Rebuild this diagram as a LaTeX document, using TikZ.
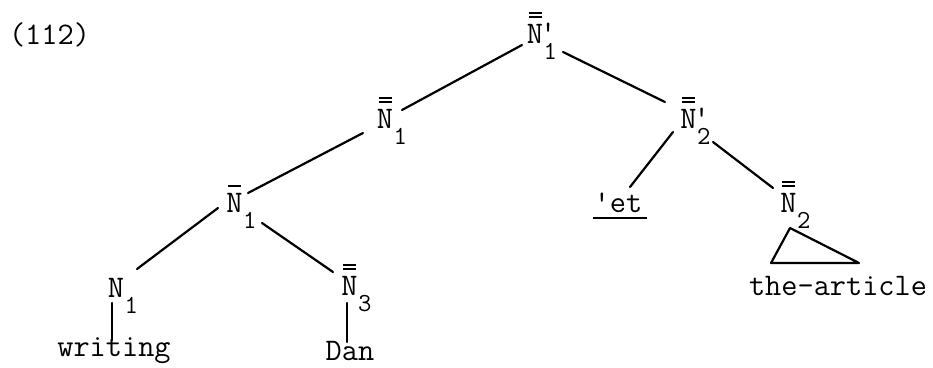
\documentclass[tikz,border=0pt]{standalone}
\usepackage{fontspec}
\newcommand\subf{\fontsize{26}{26}\selectfont\addfontfeature{FakeBold=2}}
\newcommand\Sub[1]{\rlap{\kern0.5pt\raisebox{-16.5pt}{\subf #1}}}
\newcommand\Prm{\rlap{\kern-3pt\raisebox{1pt}{\textquotesingle}}}
\newcommand\mydbar[1]{\draw[barline] ([xshift=-6.5pt,yshift=30pt]#1.base) -- ++(13,0);
  \draw[barline] ([xshift=-6.5pt,yshift=26pt]#1.base) -- ++(13,0);}
\newcommand\mysbar[1]{\draw[barline] ([xshift=-6.5pt,yshift=26pt]#1.base) -- ++(13,0);}
\begin{document}
\begin{tikzpicture}[x=1pt,y=-1pt,
  lab/.style={inner sep=0pt, outer sep=0pt, anchor=base,
    font=\ttfamily\fontsize{31.4}{34}\selectfont\addfontfeature{FakeBold=2}},
  branch/.style={line width=2.2pt, line cap=round},
  barline/.style={line width=1.6pt}]
\useasboundingbox (0,0) rectangle (933,367);
% labels
\node[lab] (num) at (49.5,44) {(112)};
\node[lab] (top) at (535,43) {N\Prm\Sub{1}};
\node[lab] (nA) at (385,128) {N\Sub{1}};
\node[lab] (nB) at (234.5,212) {N\Sub{1}};
\node[lab] (nC) at (116,297) {N\Sub{1}};
\node[lab] (nD) at (349.5,295) {N\Sub{3}};
\node[lab] (nE) at (688.5,128) {N\Prm\Sub{2}};
\node[lab] (nF) at (618,212) {\textquotesingle et};
\node[lab] (nG) at (788.5,212) {N\Sub{2}};
\node[lab] (w1) at (114,356) {writing};
\node[lab] (w2) at (350,360) {Dan};
\node[lab] (w3) at (838,295) {the-article};
% bars
\mydbar{top}
\mydbar{nA}
\mysbar{nB}
\mydbar{nD}
\mydbar{nE}
\mydbar{nG}
% underline
\draw[barline] ([shift={(-25,6)}]nF.base) -- ([shift={(29,6)}]nF.base);
% branches
\draw[branch] ([shift={(-13,2)}]top.base) -- ([shift={(17,-18)}]nA.base);
\draw[branch] ([shift={(28,9)}]top.base) -- ([shift={(-23.5,-26)}]nE.base);
\draw[branch] ([shift={(-22,5)}]nA.base) -- ([shift={(13.5,-19)}]nB.base);
\draw[branch] ([shift={(-16.5,-4)}]nB.base) -- ([shift={(21,-28)}]nC.base);
\draw[branch] ([shift={(27.5,11)}]nB.base) -- ([shift={(-16.5,-23)}]nD.base);
\draw[branch] ([shift={(-4,6)}]nC.base) -- ([shift={(-2,-16)}]w1.base);
\draw[branch] ([shift={(-2.5,8)}]nD.base) -- ([shift={(-3,-18)}]w2.base);
\draw[branch] ([shift={(-15.5,4)}]nE.base) -- ([shift={(12,-25)}]nF.base);
\draw[branch] ([shift={(24.5,14)}]nE.base) -- ([shift={(-15.5,-24)}]nG.base);
% triangle
\draw[branch, line join=round] ([shift={(1.5,16)}]nG.base) -- ([shift={(-17.5,51)}]nG.base)
  -- ([shift={(70.5,51)}]nG.base) -- cycle;
\end{tikzpicture}
\end{document}
